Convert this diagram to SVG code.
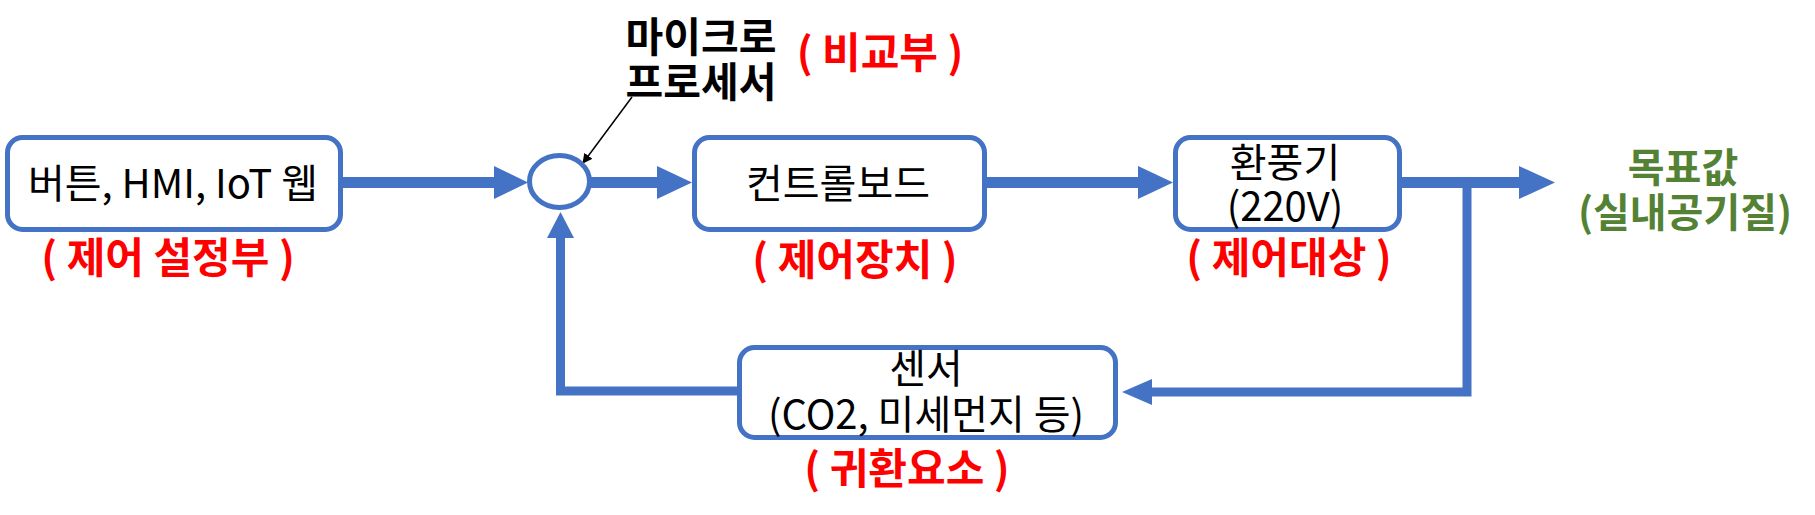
<svg xmlns="http://www.w3.org/2000/svg" width="1815" height="515" viewBox="0 0 1815 515">
<style>
text{font-family:"Noto Sans CJK KR","Noto Sans",sans-serif;text-anchor:middle}
.t{font-size:40px;fill:#000}
.r{font-size:42px;font-weight:bold;fill:#FF0000}
.g{font-size:40px;font-weight:bold;fill:#548235}
.b{font-size:41px;font-weight:bold;fill:#000}
.box{fill:#fff;stroke:#4472C4;stroke-width:5}
.main{stroke:#4472C4;stroke-width:11;fill:none}
.fb{stroke:#4472C4;stroke-width:9;fill:none}
.head{fill:#4472C4}
</style>
<defs>
<marker id="thin" markerWidth="10" markerHeight="10" refX="9" refY="5" orient="auto" markerUnits="userSpaceOnUse" viewBox="0 0 10 10">
<path d="M0,0 L10,5 L0,10 z" fill="#000"/>
</marker>
</defs>
<g id="connectors">
<line class="main" x1="343" y1="182.5" x2="496" y2="182.5"/>
<polygon class="head" points="494,166 528,182.5 494,199"/>
<line class="main" x1="590" y1="182.5" x2="659" y2="182.5"/>
<polygon class="head" points="657,166 692,182.5 657,199"/>
<line class="main" x1="987" y1="182.5" x2="1140" y2="182.5"/>
<polygon class="head" points="1138,166 1173,182.5 1138,199"/>
<line class="main" x1="1400" y1="182.5" x2="1521" y2="182.5"/>
<polygon class="head" points="1519,166 1555,182.5 1519,199"/>
<polyline class="fb" points="1467,182.5 1467,392 1150,392"/>
<polygon class="head" points="1152,379 1122,392 1152,405"/>
<polyline class="fb" points="737,391 560.5,391 560.5,236"/>
<polygon class="head" points="547,238 560.5,212 574,238"/>
<line x1="632" y1="97" x2="583" y2="163" stroke="#000" stroke-width="1.5" marker-end="url(#thin)"/>
</g>
<g id="node-input">
<rect class="box" x="7.5" y="137.5" width="333" height="92" rx="15"/>
<text class="t" x="173" y="198">버튼, HMI, IoT 웹</text>
<text class="r" x="168" y="273">( 제어 설정부 )</text>
</g>
<g id="node-comparator">
<ellipse cx="559.5" cy="181.5" rx="30" ry="26" fill="#fff" stroke="#4472C4" stroke-width="5"/>
<text class="b" x="701" y="52">마이크로</text>
<text class="b" x="701" y="97">프로세서</text>
<text class="r" x="880" y="68">( 비교부 )</text>
</g>
<g id="node-controller">
<rect class="box" x="694.5" y="137.5" width="290" height="92" rx="15"/>
<text class="t" x="838" y="198">컨트롤보드</text>
<text class="r" x="855" y="275">( 제어장치 )</text>
</g>
<g id="node-plant">
<rect class="box" x="1175.5" y="137.5" width="224" height="92" rx="15"/>
<text class="t" x="1285" y="177">환풍기</text>
<text class="t" x="1285" y="221">(220V)</text>
<text class="r" x="1289" y="273">( 제어대상 )</text>
</g>
<g id="node-output">
<text class="g" x="1683" y="182">목표값</text>
<text class="g" x="1685" y="227">(실내공기질)</text>
</g>
<g id="node-sensor">
<rect class="box" x="739.5" y="347.5" width="376" height="90" rx="15"/>
<text class="t" x="926" y="383">센서</text>
<text class="t" x="926" y="429">(CO2, 미세먼지 등)</text>
<text class="r" x="907" y="484">( 귀환요소 )</text>
</g>
</svg>
